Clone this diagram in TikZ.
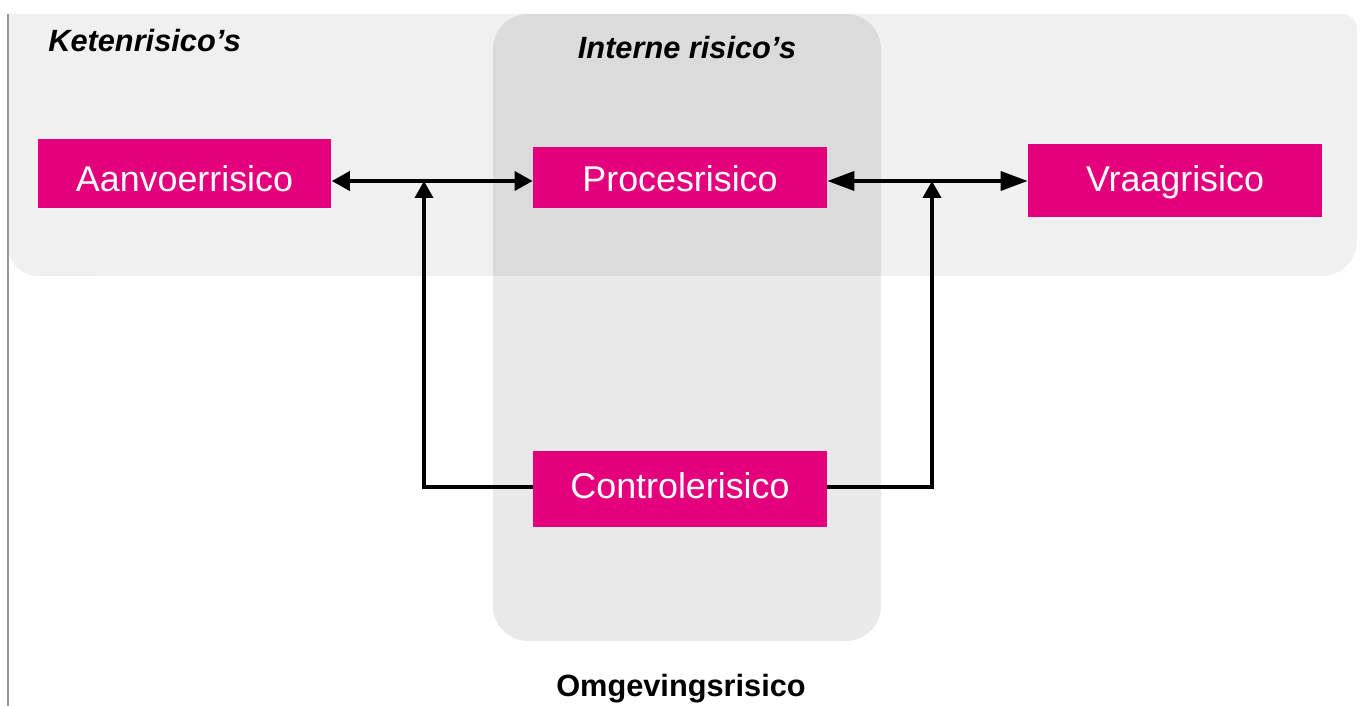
\documentclass[tikz,border=0pt]{standalone}
\usepackage{fontspec}
\setmainfont{Liberation Sans}
\usetikzlibrary{arrows.meta}

\definecolor{magenta}{RGB}{228,0,124}
\definecolor{chainband}{RGB}{240,240,240}
\definecolor{innerband}{RGB}{89,89,89}
\definecolor{edgegray}{RGB}{153,153,153}

\tikzset{
  riskbox/.style={fill=magenta, text=white, inner sep=0pt, text depth=0pt,
    minimum width=5.88cm, font=\fontsize{20.4}{24}\selectfont},
  grouptitle/.style={font=\fontsize{17.5}{21}\selectfont\bfseries\itshape, inner sep=0pt},
  link/.style={line width=2pt},
  twohead/.style={link, {Triangle[length=0.36cm,width=0.38cm]}-{Triangle[length=0.36cm,width=0.38cm]}},
  widehead/.style={link, {Triangle[length=0.54cm,width=0.38cm]}-{Triangle[length=0.54cm,width=0.38cm]}},
  uphead/.style={link, -{Triangle[length=0.34cm,width=0.36cm]}}
}

\begin{document}
\begin{tikzpicture}[x=0.02cm, y=-0.02cm]
\useasboundingbox (0,0) rectangle (1367,706);

% chain band
\fill[chainband] (8,14) -- (1342,14) arc[start angle=90,end angle=0,radius=0.3cm]
  -- (1357,241) arc[start angle=0,end angle=-90,radius=0.7cm]
  -- (38,276) arc[start angle=270,end angle=180,radius=0.6cm] -- cycle;

% internal band
\fill[innerband, fill opacity=0.133, rounded corners=0.7cm] (493,14) rectangle (881,641);

% left edge rule
\draw[edgegray, line width=0.9pt] (8,14) -- (8,706);

% group titles
\node[grouptitle, anchor=base west] (tchain) at (48,52) {Ketenrisico’s};
\node[grouptitle, anchor=base] (tinner) at (687,59) {Interne risico’s};
\node[font=\fontsize{17.5}{21}\selectfont\bfseries, inner sep=0pt, anchor=base] (tenv) at (681,696) {Omgevingsrisico};

% risk boxes
\node[riskbox, minimum height=1.38cm, text height=21pt] (aan) at (184.5,173.5) {Aanvoerrisico};
\node[riskbox, minimum height=1.22cm, text height=16.2pt] (proc) at (680,177.5) {Procesrisico};
\node[riskbox, minimum height=1.46cm, text height=12.7pt] (vraag) at (1175,180.5) {Vraagrisico};
\node[riskbox, minimum height=1.52cm, text height=11.3pt] (ctrl) at (680,489) {Controlerisico};

% junctions on the horizontal links
\coordinate (jL) at (424,181);
\coordinate (jR) at (932,181);

% connectors
\draw[twohead] (aan.east |- jL) -- (proc.west |- jL);
\draw[widehead] (proc.east |- jR) -- (vraag.west |- jR);
\draw[uphead] (ctrl.west |- 0,487) -| (jL);
\draw[uphead] (ctrl.east |- 0,487) -| (jR);
\end{tikzpicture}
\end{document}
